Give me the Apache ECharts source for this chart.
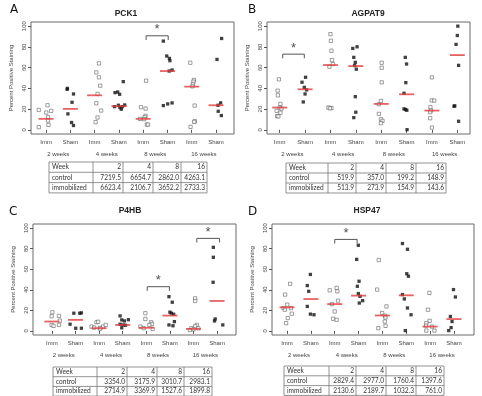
<!DOCTYPE html>
<html>
<head>
<meta charset="utf-8">
<script src="https://cdn.jsdelivr.net/npm/echarts@6/dist/echarts.min.js"></script>
<style>
  html, body { margin: 0; padding: 0; background: #fff; }
  #main { width: 482px; height: 396px; }
</style>
</head>
<body>
<div id="main"></div>
<script>
  // x groups, week labels, y ticks
  var groupLabels = ['Imm', 'Sham', 'Imm', 'Sham', 'Imm', 'Sham', 'Imm', 'Sham'];
  var weekLabels = ['2 weeks', '4 weeks', '8 weeks', '16 weeks'];
  var yTicks = [0, 20, 40, 60, 80, 100];
  var tableWeeks = [2, 4, 8, 16];

  // A - PCK1  ([x with jitter, percent])
  var pck1Imm = [
    [1.06, 23.7], [0.70, 19.2], [1.01, 16.7], [1.21, 18.3], [1.08, 12.2], [1.08, 9.0], [1.10, 4.8], [0.70, 2.6],
    [3.18, 64.1], [3.07, 55.4], [3.18, 50.6], [3.23, 42.6], [3.12, 34.6], [3.07, 25.6], [3.27, 18.6], [3.12, 11.9], [3.04, 7.4],
    [5.12, 47.4], [4.91, 21.8], [5.10, 20.5], [5.10, 13.5], [5.06, 12.2], [5.04, 10.3], [4.87, 10.6], [5.15, 5.1], [5.20, 5.1],
    [6.94, 64.7], [7.09, 48.1], [7.07, 46.5], [7.05, 43.9], [7.03, 42.0], [7.12, 23.4], [7.13, 8.3], [7.10, 7.7], [6.95, 2.9]
  ];
  var pck1Sham = [
    [1.87, 39.1], [1.88, 40.0], [2.13, 34.6], [2.07, 26.6], [1.90, 15.4], [2.05, 7.1], [2.13, 4.2],
    [4.18, 46.5], [3.84, 35.9], [3.95, 36.5], [4.03, 34.3], [3.98, 23.7], [4.14, 22.4], [4.04, 21.5], [4.10, 19.9], [4.24, 24.0], [3.82, 22.4],
    [5.83, 85.6], [5.97, 71.2], [6.08, 68.9], [6.10, 66.7], [6.19, 57.7], [5.83, 23.4], [6.01, 25.0], [6.19, 26.0], [6.07, 56.7],
    [8.23, 88.1], [8.04, 67.9], [8.19, 26.0], [8.08, 23.7], [8.09, 17.9], [8.22, 13.8]
  ];
  var pck1Median = [10.6, 20.2, 33.3, 22.8, 10.6, 56.7, 41.7, 23.7];
  var pck1Brackets = [[5.12, 6.03, 90.7]];
  var pck1Control = [7219.5, 6654.7, 2862.0, 4263.1];
  var pck1Immob = [6623.4, 2106.7, 3652.2, 2733.3];

  // B - AGPAT9
  var agpat9Imm = [
    [0.97, 48.7], [0.92, 37.8], [0.93, 33.3], [1.03, 25.0], [1.00, 21.5], [1.07, 20.5], [0.88, 18.3], [1.03, 16.5], [0.90, 13.2], [0.95, 13.0],
    [3.00, 92.3], [3.02, 85.9], [3.04, 76.3], [3.06, 67.3], [3.10, 63.5], [2.96, 60.9], [2.92, 21.5], [3.04, 21.0], [2.98, 20.8],
    [5.02, 64.7], [5.02, 59.9], [5.02, 45.8], [4.99, 27.9], [4.91, 24.7], [4.91, 15.4], [4.99, 10.3], [5.05, 8.7], [4.99, 6.4],
    [7.00, 50.6], [6.99, 28.4], [7.09, 28.2], [6.94, 21.8], [6.96, 18.6], [6.93, 17.0], [6.93, 11.2], [7.00, 2.2]
  ];
  var agpat9Sham = [
    [2.02, 50.7], [1.88, 45.9], [1.97, 41.0], [2.06, 38.5], [2.00, 34.6], [1.93, 26.9],
    [4.05, 80.1], [3.88, 78.5], [3.92, 69.9], [3.98, 65.1], [3.95, 62.0], [4.02, 58.5], [3.98, 32.0], [4.00, 17.0], [3.92, 11.8],
    [5.95, 69.9], [6.00, 63.5], [5.97, 45.5], [5.90, 35.3], [5.90, 20.2], [5.96, 19.6], [6.01, 18.9], [6.02, 0.2],
    [8.02, 100], [8.00, 91.0], [7.95, 82.4], [8.05, 62.2], [7.90, 23.1], [7.87, 22.8], [8.05, 8.3]
  ];
  var agpat9Median = [21.5, 39.1, 62.5, 61.5, 25.0, 34.3, 18.6, 72.1];
  var agpat9Brackets = [[1.12, 1.97, 73]];
  var agpat9Control = [519.9, 357.0, 199.2, 148.9];
  var agpat9Immob = [513.9, 273.9, 154.9, 143.6];

  // C - P4HB
  var p4hbImm = [
    [1.02, 18.1], [0.99, 14.2], [1.30, 14.6], [1.34, 10.0], [0.99, 5.8], [1.07, 4.9], [1.30, 5.8],
    [2.89, 8.4], [2.96, 8.9], [2.68, 4.2], [2.79, 3.2], [3.03, 2.9], [3.17, 4.2], [3.28, 5.8], [3.05, 2.2],
    [4.96, 17.2], [4.96, 11.6], [5.20, 8.4], [5.24, 6.8], [5.13, 5.8], [4.75, 4.2], [4.89, 2.6], [5.27, 1.9],
    [7.07, 31.7], [7.07, 29.1], [7.14, 5.8], [7.07, 4.5], [6.91, 2.6], [7.00, 1.5], [7.20, 2.5], [6.85, 0.8]
  ];
  var p4hbSham = [
    [1.77, 6.5], [1.93, 17.2], [2.18, 17.2], [2.25, 17.5], [2.01, 2.6], [2.25, 2.6],
    [3.89, 14.6], [3.96, 10.7], [4.07, 9.7], [4.24, 10.9], [3.89, 6.5], [4.02, 5.8], [4.12, 5.5], [3.96, 3.0],
    [5.96, 33.3], [6.10, 27.9], [6.00, 18.2], [6.06, 17.2], [6.16, 16.2], [6.19, 9.0], [5.96, 5.8], [6.13, 5.0],
    [7.84, 81.3], [7.84, 71.6], [7.83, 47.3], [7.92, 11.6], [7.89, 9.7], [8.24, 5.8]
  ];
  var p4hbMedian = [9.1, 10.7, 2.6, 5.8, 3.0, 14.9, 1.9, 29.1];
  var p4hbBrackets = [[5.04, 5.98, 43], [7.14, 8.10, 90]];
  var p4hbControl = [3354.0, 3175.9, 3010.7, 2983.1];
  var p4hbImmob = [2714.9, 3369.9, 1527.6, 1899.8];

  // D - HSP47
  var hsp47Imm = [
    [1.13, 45.8], [0.92, 35.3], [1.01, 25.5], [0.85, 22.2], [1.16, 22.2], [0.91, 20.6], [1.20, 16.7], [1.03, 12.5], [0.96, 7.5],
    [2.79, 39.5], [3.08, 41.8], [3.11, 38.5], [3.14, 29.4], [3.00, 18.9], [2.93, 11.8], [3.08, 10.8], [2.88, 26.1],
    [4.85, 68.9], [4.78, 40.2], [4.99, 17.4], [5.10, 14.7], [5.13, 13.0], [5.10, 9.1], [5.13, 4.9], [4.83, 2.6], [5.17, 23.8],
    [6.97, 37.0], [6.91, 20.6], [6.98, 9.8], [6.84, 7.5], [6.83, 5.2], [7.08, 4.2], [6.84, 0.3], [7.18, 0.3]
  ];
  var hsp47Sham = [
    [1.98, 54.9], [1.85, 44.1], [1.91, 38.5], [1.85, 23.8], [1.98, 16.3], [2.13, 15.7],
    [3.99, 83.3], [3.92, 69.6], [4.02, 48.3], [3.95, 43.4], [3.99, 36.3], [4.06, 33.6], [4.17, 29.4], [4.03, 27.1],
    [5.84, 85.0], [6.05, 79.4], [6.02, 55.6], [6.09, 53.2], [5.84, 35.3], [5.92, 31.1], [6.05, 22.3], [6.20, 15.7], [5.96, 0.3],
    [7.98, 40.2], [8.06, 33.0], [7.85, 14.0], [7.92, 9.1], [7.88, 3.2], [7.78, 0.3]
  ];
  var hsp47Median = [22.9, 31.0, 26.1, 34.3, 15.0, 34.6, 4.2, 11.5];
  var hsp47Brackets = [[3.00, 3.94, 89]];
  var hsp47Control = [2829.4, 2977.0, 1760.4, 1397.6];
  var hsp47Immob = [2130.6, 2189.7, 1032.3, 761.0];

  var panels = [
    { letter: 'A', title: 'PCK1', imm: pck1Imm, sham: pck1Sham, med: pck1Median, brackets: pck1Brackets,
      control: pck1Control, immob: pck1Immob,
      grid: { left: 31, top: 22, width: 203, height: 112 }, xMin: 0.38, xMax: 8.74,
      letterPos: [10, 4], titlePos: [126, 14],
      table: { left: 49, top: 162, rowH: 10.3, cols: [44, 30, 30, 28, 26] } },
    { letter: 'B', title: 'AGPAT9', imm: agpat9Imm, sham: agpat9Sham, med: agpat9Median, brackets: agpat9Brackets,
      control: agpat9Control, immob: agpat9Immob,
      grid: { left: 267, top: 22, width: 203, height: 112 }, xMin: 0.5, xMax: 8.5,
      letterPos: [248, 4], titlePos: [368, 14],
      table: { left: 286, top: 163, rowH: 10, cols: [42, 28, 30, 30, 30] } },
    { letter: 'C', title: 'P4HB', imm: p4hbImm, sham: p4hbSham, med: p4hbMedian, brackets: p4hbBrackets,
      control: p4hbControl, immob: p4hbImmob,
      grid: { left: 33, top: 224, width: 203, height: 111 }, xMin: 0.2, xMax: 8.8,
      letterPos: [9, 206], titlePos: [130, 211],
      table: { left: 53, top: 367, rowH: 9.7, cols: [44, 30, 30, 27, 28] } },
    { letter: 'D', title: 'HSP47', imm: hsp47Imm, sham: hsp47Sham, med: hsp47Median, brackets: hsp47Brackets,
      control: hsp47Control, immob: hsp47Immob,
      grid: { left: 272, top: 224, width: 202, height: 111 }, xMin: 0.37, xMax: 8.84,
      letterPos: [248, 206], titlePos: [367, 211],
      table: { left: 284, top: 366, rowH: 9.8, cols: [45, 27, 30, 30, 28] } }
  ];

  var rFont = 'Liberation Sans';
  var grids = [], xAxes = [], yAxes = [], series = [], graphics = [];

  panels.forEach(function (p, i) {
    grids.push(Object.assign({ show: true, borderColor: '#6a6a6a', borderWidth: 1, backgroundColor: '#fff' }, p.grid));

    xAxes.push({
      gridIndex: i, type: 'value', min: p.xMin, max: p.xMax,
      axisLine: { show: false }, splitLine: { show: false },
      axisTick: { show: true, length: 3, customValues: [1, 2, 3, 4, 5, 6, 7, 8], lineStyle: { color: '#555' } },
      axisLabel: { customValues: [1, 2, 3, 4, 5, 6, 7, 8], fontSize: 6, color: '#444', margin: 5, fontFamily: rFont,
        formatter: function (v) { return groupLabels[Math.round(v) - 1]; } }
    });
    xAxes.push({
      gridIndex: i, type: 'value', min: p.xMin, max: p.xMax, position: 'bottom', offset: 12,
      axisLine: { show: false }, splitLine: { show: false }, axisTick: { show: false },
      axisLabel: { customValues: [1.5, 3.5, 5.5, 7.5], fontSize: 6, color: '#444', margin: 5, fontFamily: rFont,
        formatter: function (v) { return weekLabels[Math.round((v - 1.5) / 2)]; } }
    });
    yAxes.push({
      gridIndex: i, type: 'value', min: -4, max: 104,
      axisLine: { show: false }, splitLine: { show: false },
      axisTick: { show: true, length: 3, customValues: yTicks, lineStyle: { color: '#555' } },
      axisLabel: { customValues: yTicks, rotate: 90, fontSize: 6, color: '#444', margin: 4, fontFamily: rFont },
      name: 'Percent Positive Staining', nameLocation: 'middle', nameRotate: 90, nameGap: 17,
      nameTextStyle: { fontSize: 6, color: '#444', fontFamily: rFont }
    });

    var xi = i * 2;
    series.push({
      type: 'scatter', xAxisIndex: xi, yAxisIndex: i, data: p.imm, symbol: 'rect', symbolSize: 3.3,
      itemStyle: { color: '#fff', borderColor: '#555', borderWidth: 0.7 }, z: 3
    });
    series.push({
      type: 'scatter', xAxisIndex: xi, yAxisIndex: i, data: p.sham, symbol: 'rect', symbolSize: 3.3,
      itemStyle: { color: '#111' }, z: 3
    });
    series.push({
      type: 'scatter', xAxisIndex: xi, yAxisIndex: i, symbol: 'rect', symbolSize: [15, 1.8],
      data: p.med.map(function (v, k) { return [k + 1, v]; }),
      itemStyle: { color: '#e23b3b' }, z: 4
    });
    p.brackets.forEach(function (b) {
      series.push({
        type: 'line', xAxisIndex: xi, yAxisIndex: i, symbol: 'none', silent: true,
        data: [[b[0], b[2] - 4], [b[0], b[2]], [b[1], b[2]], [b[1], b[2] - 4]],
        lineStyle: { color: '#555', width: 1 }
      });
      series.push({
        type: 'scatter', xAxisIndex: xi, yAxisIndex: i, symbolSize: 0,
        data: [[(b[0] + b[1]) / 2, b[2] + 6]],
        label: { show: true, position: 'inside', formatter: '*', fontSize: 13, color: '#222', fontFamily: rFont }
      });
    });

    graphics.push({ type: 'text', x: p.letterPos[0], y: p.letterPos[1],
      style: { text: p.letter, fontSize: 12, fill: '#111', fontFamily: 'DejaVu Sans' } });
    graphics.push({ type: 'text', x: p.titlePos[0], y: p.titlePos[1],
      style: { text: p.title, fontSize: 8.5, fontWeight: 'bold', fill: '#222', fontFamily: rFont, align: 'center', verticalAlign: 'middle' } });

    // table under the plot
    var t = p.table;
    var total = t.cols.reduce(function (a, b) { return a + b; }, 0);
    var rows = [
      ['Week'].concat(tableWeeks.map(String)),
      ['control'].concat(p.control.map(function (v) { return v.toFixed(1); })),
      ['immobilized'].concat(p.immob.map(function (v) { return v.toFixed(1); }))
    ];
    graphics.push({ type: 'rect', shape: { x: t.left, y: t.top, width: total, height: t.rowH * 3 },
      style: { fill: 'none', stroke: '#777', lineWidth: 0.8 } });
    for (var r = 1; r < 3; r++) {
      graphics.push({ type: 'line', shape: { x1: t.left, y1: t.top + r * t.rowH, x2: t.left + total, y2: t.top + r * t.rowH },
        style: { stroke: '#777', lineWidth: 0.8 } });
    }
    var cx = t.left;
    t.cols.forEach(function (w, c) {
      if (c > 0) {
        graphics.push({ type: 'line', shape: { x1: cx, y1: t.top, x2: cx, y2: t.top + 3 * t.rowH },
          style: { stroke: '#777', lineWidth: 0.8 } });
      }
      rows.forEach(function (row, r) {
        graphics.push({ type: 'text', x: c === 0 ? cx + 3 : cx + w - 2, y: t.top + (r + 0.5) * t.rowH,
          style: { text: row[c], fontSize: 6.6, fill: '#333', fontFamily: 'Lato',
            align: c === 0 ? 'left' : 'right', verticalAlign: 'middle' } });
      });
      cx += w;
    });
  });

  var chart = echarts.init(document.getElementById('main'));
  chart.setOption({
    animation: false,
    backgroundColor: '#fff',
    grid: grids,
    xAxis: xAxes,
    yAxis: yAxes,
    series: series,
    graphic: graphics
  });
</script>
</body>
</html>
